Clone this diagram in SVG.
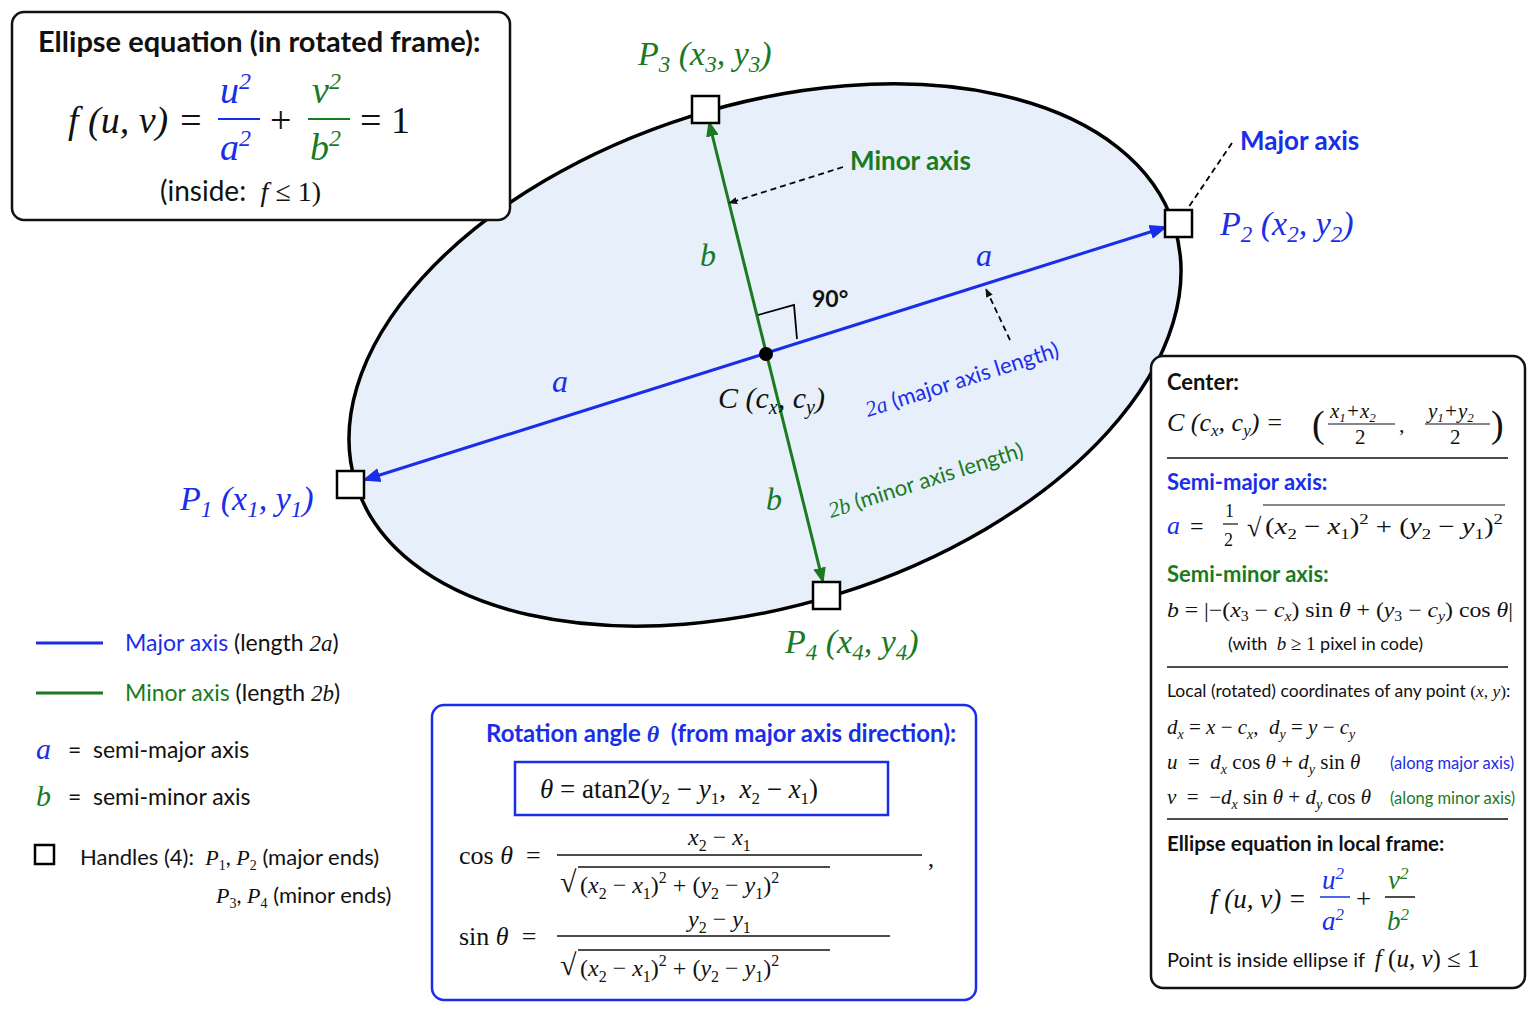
<svg xmlns="http://www.w3.org/2000/svg" width="1537" height="1023" viewBox="0 0 1537 1023">
<defs>
<style>
.s{font-family:Lato,"Liberation Sans",sans-serif}
.m{font-family:"Liberation Serif","DejaVu Serif",serif;font-style:italic}
.r{font-family:"Liberation Serif","DejaVu Serif",serif}
.b{fill:#1a2ee8}.g{fill:#1b7a1f}.k{fill:#111}
.box{fill:#fff;stroke:#111;stroke-width:2.5}
.h{fill:#fff;stroke:#000;stroke-width:2.5}
</style>
<marker id="ag" viewBox="0 0 10 10" refX="9" refY="5" markerWidth="16" markerHeight="16" orient="auto-start-reverse" markerUnits="userSpaceOnUse"><path d="M0,1 L10,5 L0,9 z" fill="#1b7a1f"/></marker>
<marker id="ab2" viewBox="0 0 10 10" refX="9" refY="5" markerWidth="18" markerHeight="18" orient="auto-start-reverse" markerUnits="userSpaceOnUse"><path d="M0,1 L10,5 L0,9 z" fill="#1a2ee8"/></marker>
<marker id="ak" viewBox="0 0 10 10" refX="9" refY="5" markerWidth="9" markerHeight="9" orient="auto" markerUnits="userSpaceOnUse"><path d="M0,1 L10,5 L0,9 z" fill="#111"/></marker>
</defs>
<rect width="1537" height="1023" fill="#fff"/>

<g id="ellipse">
<ellipse cx="765" cy="355" rx="429" ry="250" transform="rotate(-17.5 765 355)" fill="#e6effa" stroke="#000" stroke-width="3.5"/>
</g>

<g id="connectors">
<line x1="364" y1="480" x2="1166" y2="227" stroke="#1a2ee8" stroke-width="3" marker-start="url(#ab2)" marker-end="url(#ab2)"/>
<line x1="709" y1="122" x2="823" y2="582" stroke="#1b7a1f" stroke-width="3" marker-start="url(#ag)" marker-end="url(#ag)"/>
<path d="M758,315 L794,305 L797,339" fill="none" stroke="#000" stroke-width="1.8"/>
<line x1="843" y1="167" x2="729" y2="203" stroke="#000" stroke-width="1.8" stroke-dasharray="6,4" marker-end="url(#ak)"/>
<line x1="1232" y1="143" x2="1188" y2="208" stroke="#000" stroke-width="1.8" stroke-dasharray="6,4"/>
<line x1="1010" y1="340" x2="986" y2="289" stroke="#000" stroke-width="1.8" stroke-dasharray="6,4" marker-end="url(#ak)"/>
</g>

<g id="center"><circle cx="766" cy="354" r="7" fill="#000"/>
<text x="718" y="408" class="m k" font-size="30">C <tspan class="r">(</tspan>c<tspan font-size="20" dy="6">x</tspan><tspan dy="-6" class="r">, </tspan>c<tspan font-size="20" dy="6">y</tspan><tspan dy="-6" class="r">)</tspan></text>
<text x="812" y="307" class="s k" font-size="23" font-weight="bold">90°</text>
</g>

<g id="handles">
<rect x="337" y="471" width="27" height="27" class="h"/>
<rect x="1165" y="210" width="27" height="27" class="h"/>
<rect x="692" y="96" width="27" height="27" class="h"/>
<rect x="813" y="582" width="27" height="27" class="h"/>
</g>

<g id="labels">
<text x="180" y="510" class="m b" font-size="34">P<tspan font-size="23" dy="7">1</tspan><tspan dy="-7" class="r"> (</tspan>x<tspan font-size="23" dy="7">1</tspan><tspan dy="-7" class="r">, </tspan>y<tspan font-size="23" dy="7">1</tspan><tspan dy="-7" class="r">)</tspan></text>
<text x="1220" y="235" class="m b" font-size="34">P<tspan font-size="23" dy="7">2</tspan><tspan dy="-7" class="r"> (</tspan>x<tspan font-size="23" dy="7">2</tspan><tspan dy="-7" class="r">, </tspan>y<tspan font-size="23" dy="7">2</tspan><tspan dy="-7" class="r">)</tspan></text>
<text x="638" y="65" class="m g" font-size="34">P<tspan font-size="23" dy="7">3</tspan><tspan dy="-7" class="r"> (</tspan>x<tspan font-size="23" dy="7">3</tspan><tspan dy="-7" class="r">, </tspan>y<tspan font-size="23" dy="7">3</tspan><tspan dy="-7" class="r">)</tspan></text>
<text x="785" y="653" class="m g" font-size="34">P<tspan font-size="23" dy="7">4</tspan><tspan dy="-7" class="r"> (</tspan>x<tspan font-size="23" dy="7">4</tspan><tspan dy="-7" class="r">, </tspan>y<tspan font-size="23" dy="7">4</tspan><tspan dy="-7" class="r">)</tspan></text>
<text x="850" y="170" class="s g" font-size="26" font-weight="bold">Minor axis</text>
<text x="1240" y="150" class="s b" font-size="26" font-weight="bold">Major axis</text>
<text x="976" y="266" class="m b" font-size="32">a</text>
<text x="552" y="392" class="m b" font-size="32">a</text>
<text x="700" y="266" class="m g" font-size="32">b</text>
<text x="766" y="510" class="m g" font-size="32">b</text>
<text transform="translate(868,417) rotate(-17.5)" class="s b" font-size="22"><tspan class="m">2a</tspan> (major axis length)</text>
<text transform="translate(831,518) rotate(-17.5)" class="s g" font-size="22"><tspan class="m">2b</tspan> (minor axis length)</text>
</g>

<g id="eqbox">
<rect x="12" y="12" width="498" height="208" rx="12" class="box"/>
<text x="38" y="52" class="s k" font-size="29" font-weight="bold">Ellipse equation (in rotated frame):</text>
<text x="68" y="133" class="m k" font-size="38">f <tspan class="r">(</tspan>u<tspan class="r">, </tspan>v<tspan class="r">) =</tspan></text>
<text x="220" y="103" class="m b" font-size="38">u<tspan font-size="24" dy="-14" class="r">2</tspan></text>
<line x1="218" y1="119" x2="260" y2="119" stroke="#1a2ee8" stroke-width="2"/>
<text x="220" y="160" class="m b" font-size="38">a<tspan font-size="24" dy="-14" class="r">2</tspan></text>
<text x="270" y="133" class="r k" font-size="38">+</text>
<text x="312" y="103" class="m g" font-size="38">v<tspan font-size="24" dy="-14" class="r">2</tspan></text>
<line x1="308" y1="119" x2="350" y2="119" stroke="#1b7a1f" stroke-width="2"/>
<text x="310" y="160" class="m g" font-size="38">b<tspan font-size="24" dy="-14" class="r">2</tspan></text>
<text x="360" y="133" class="r k" font-size="38">= 1</text>
<text x="160" y="201" class="s k" font-size="28" xml:space="preserve">(inside:  <tspan class="m">f</tspan> <tspan class="r">≤ 1)</tspan></text>
</g>

<g id="legend">
<line x1="36" y1="643" x2="103" y2="643" stroke="#1a2ee8" stroke-width="3"/>
<text x="125" y="651" class="s k" font-size="23"><tspan class="b">Major axis</tspan> (length <tspan class="m">2a</tspan>)</text>
<line x1="36" y1="693" x2="103" y2="693" stroke="#1b7a1f" stroke-width="3"/>
<text x="125" y="701" class="s k" font-size="23"><tspan class="g">Minor axis</tspan> (length <tspan class="m">2b</tspan>)</text>
<text x="36" y="759" class="m b" font-size="30">a</text>
<text x="62" y="758" class="s k" font-size="23" xml:space="preserve"> =  semi-major axis</text>
<text x="36" y="806" class="m g" font-size="30">b</text>
<text x="62" y="805" class="s k" font-size="23" xml:space="preserve"> =  semi-minor axis</text>
<rect x="35" y="845" width="19" height="19" fill="#fff" stroke="#000" stroke-width="2.5"/>
<text x="80" y="865" class="s k" font-size="22" xml:space="preserve">Handles (4):  <tspan class="m">P</tspan><tspan class="r" font-size="14" dy="5">1</tspan><tspan dy="-5">, </tspan><tspan class="m">P</tspan><tspan class="r" font-size="14" dy="5">2</tspan><tspan dy="-5"> (major ends)</tspan></text>
<text x="216" y="903" class="s k" font-size="22"><tspan class="m">P</tspan><tspan class="r" font-size="14" dy="5">3</tspan><tspan dy="-5">, </tspan><tspan class="m">P</tspan><tspan class="r" font-size="14" dy="5">4</tspan><tspan dy="-5"> (minor ends)</tspan></text>
</g>

<g id="rotbox">
<rect x="432" y="705" width="544" height="295" rx="12" fill="#fff" stroke="#1a2ee8" stroke-width="2.5"/>
<text x="486" y="742" class="s b" font-size="24" font-weight="bold" xml:space="preserve">Rotation angle <tspan class="m">θ</tspan>  (from major axis direction):</text>
<rect x="515" y="762" width="373" height="53" fill="#fff" stroke="#1a2ee8" stroke-width="2.5"/>
<text x="540" y="798" class="r k" font-size="27" xml:space="preserve"><tspan class="m">θ</tspan> = atan2(<tspan class="m">y</tspan><tspan font-size="17" dy="6">2</tspan><tspan dy="-6"> − </tspan><tspan class="m">y</tspan><tspan font-size="17" dy="6">1</tspan><tspan dy="-6">,  </tspan><tspan class="m">x</tspan><tspan font-size="17" dy="6">2</tspan><tspan dy="-6"> − </tspan><tspan class="m">x</tspan><tspan font-size="17" dy="6">1</tspan><tspan dy="-6">)</tspan></text>
<text x="459" y="864" class="r k" font-size="26" xml:space="preserve">cos <tspan class="m">θ</tspan>  =</text>
<text x="688" y="845" class="r k" font-size="24"><tspan class="m">x</tspan><tspan font-size="16" dy="6">2</tspan><tspan dy="-6"> − </tspan><tspan class="m">x</tspan><tspan font-size="16" dy="6">1</tspan></text>
<line x1="557" y1="855" x2="922" y2="855" stroke="#111" stroke-width="1.5"/>
<text x="928" y="866" class="r k" font-size="24">,</text>
<text x="560" y="892" class="r k" font-size="30">√</text>
<line x1="578" y1="867" x2="830" y2="867" stroke="#111" stroke-width="1.5"/>
<text x="580" y="893" class="r k" font-size="24">(<tspan class="m">x</tspan><tspan font-size="16" dy="6">2</tspan><tspan dy="-6"> − </tspan><tspan class="m">x</tspan><tspan font-size="16" dy="6">1</tspan><tspan dy="-6">)</tspan><tspan font-size="16" dy="-10">2</tspan><tspan dy="10"> + (</tspan><tspan class="m">y</tspan><tspan font-size="16" dy="6">2</tspan><tspan dy="-6"> − </tspan><tspan class="m">y</tspan><tspan font-size="16" dy="6">1</tspan><tspan dy="-6">)</tspan><tspan font-size="16" dy="-10">2</tspan></text>
<text x="459" y="945" class="r k" font-size="26" xml:space="preserve">sin <tspan class="m">θ</tspan>  =</text>
<text x="688" y="927" class="r k" font-size="24"><tspan class="m">y</tspan><tspan font-size="16" dy="6">2</tspan><tspan dy="-6"> − </tspan><tspan class="m">y</tspan><tspan font-size="16" dy="6">1</tspan></text>
<line x1="557" y1="936" x2="890" y2="936" stroke="#111" stroke-width="1.5"/>
<text x="560" y="975" class="r k" font-size="30">√</text>
<line x1="578" y1="950" x2="830" y2="950" stroke="#111" stroke-width="1.5"/>
<text x="580" y="976" class="r k" font-size="24">(<tspan class="m">x</tspan><tspan font-size="16" dy="6">2</tspan><tspan dy="-6"> − </tspan><tspan class="m">x</tspan><tspan font-size="16" dy="6">1</tspan><tspan dy="-6">)</tspan><tspan font-size="16" dy="-10">2</tspan><tspan dy="10"> + (</tspan><tspan class="m">y</tspan><tspan font-size="16" dy="6">2</tspan><tspan dy="-6"> − </tspan><tspan class="m">y</tspan><tspan font-size="16" dy="6">1</tspan><tspan dy="-6">)</tspan><tspan font-size="16" dy="-10">2</tspan></text>
</g>

<g id="infobox">
<rect x="1151" y="356" width="374" height="632" rx="12" class="box"/>
<text x="1167" y="390" class="s k" font-size="22" font-weight="bold">Center:</text>
<text x="1167" y="431" class="m k" font-size="26">C <tspan class="r">(</tspan>c<tspan font-size="17" dy="5">x</tspan><tspan dy="-5" class="r">, </tspan>c<tspan font-size="17" dy="5">y</tspan><tspan dy="-5" class="r">) = </tspan></text>
<text x="1312" y="437" class="r k" font-size="38">(</text>
<text x="1330" y="418" class="m k" font-size="21">x<tspan font-size="13" dy="4" class="r">1</tspan><tspan dy="-4" class="r">+</tspan>x<tspan font-size="13" dy="4" class="r">2</tspan></text>
<line x1="1328" y1="424" x2="1395" y2="424" stroke="#111" stroke-width="1.2"/>
<text x="1355" y="444" class="r k" font-size="21">2</text>
<text x="1399" y="432" class="r k" font-size="22">,</text>
<text x="1428" y="418" class="m k" font-size="21">y<tspan font-size="13" dy="4" class="r">1</tspan><tspan dy="-4" class="r">+</tspan>y<tspan font-size="13" dy="4" class="r">2</tspan></text>
<line x1="1425" y1="424" x2="1490" y2="424" stroke="#111" stroke-width="1.2"/>
<text x="1450" y="444" class="r k" font-size="21">2</text>
<text x="1491" y="437" class="r k" font-size="38">)</text>
<line x1="1167" y1="458" x2="1508" y2="458" stroke="#111" stroke-width="1.5"/>
<text x="1167" y="490" class="s b" font-size="22" font-weight="bold">Semi-major axis:</text>
<text x="1167" y="534" class="m b" font-size="26">a</text>
<text x="1190" y="534" class="r k" font-size="24">=</text>
<text x="1225" y="517" class="r k" font-size="18">1</text>
<line x1="1223" y1="524" x2="1238" y2="524" stroke="#111" stroke-width="1.2"/>
<text x="1224" y="546" class="r k" font-size="18">2</text>
<text x="1247" y="536" class="r k" font-size="26">√</text>
<line x1="1263" y1="505" x2="1505" y2="505" stroke="#111" stroke-width="1.2"/>
<text x="1265" y="534" class="r k" font-size="23" textLength="238" lengthAdjust="spacingAndGlyphs">(<tspan class="m">x</tspan><tspan font-size="15" dy="5">2</tspan><tspan dy="-5"> − </tspan><tspan class="m">x</tspan><tspan font-size="15" dy="5">1</tspan><tspan dy="-5">)</tspan><tspan font-size="15" dy="-10">2</tspan><tspan dy="10"> + (</tspan><tspan class="m">y</tspan><tspan font-size="15" dy="5">2</tspan><tspan dy="-5"> − </tspan><tspan class="m">y</tspan><tspan font-size="15" dy="5">1</tspan><tspan dy="-5">)</tspan><tspan font-size="15" dy="-10">2</tspan></text>
<text x="1167" y="582" class="s g" font-size="22" font-weight="bold">Semi-minor axis:</text>
<text x="1167" y="617" class="r k" font-size="21" textLength="346" lengthAdjust="spacingAndGlyphs"><tspan class="m">b</tspan> = |−(<tspan class="m">x</tspan><tspan font-size="14" dy="4">3</tspan><tspan dy="-4"> − </tspan><tspan class="m">c</tspan><tspan class="m" font-size="14" dy="4">x</tspan><tspan dy="-4">) sin </tspan><tspan class="m">θ</tspan> + (<tspan class="m">y</tspan><tspan font-size="14" dy="4">3</tspan><tspan dy="-4"> − </tspan><tspan class="m">c</tspan><tspan class="m" font-size="14" dy="4">y</tspan><tspan dy="-4">) cos </tspan><tspan class="m">θ</tspan>|</text>
<text x="1228" y="650" class="s k" font-size="18" xml:space="preserve">(with  <tspan class="m" font-size="19">b</tspan> <tspan class="r" font-size="19">≥ 1</tspan> pixel in code)</text>
<line x1="1167" y1="667" x2="1508" y2="667" stroke="#111" stroke-width="1.5"/>
<text x="1167" y="697" class="s k" font-size="17.5">Local (rotated) coordinates of any point <tspan class="r">(</tspan><tspan class="m">x</tspan><tspan class="r">, </tspan><tspan class="m">y</tspan><tspan class="r">)</tspan>:</text>
<text x="1167" y="734" class="r k" font-size="21" xml:space="preserve"><tspan class="m">d</tspan><tspan class="m" font-size="14" dy="5">x</tspan><tspan dy="-5"> = </tspan><tspan class="m">x</tspan> − <tspan class="m">c</tspan><tspan class="m" font-size="14" dy="5">x</tspan><tspan dy="-5">,  </tspan><tspan class="m">d</tspan><tspan class="m" font-size="14" dy="5">y</tspan><tspan dy="-5"> = </tspan><tspan class="m">y</tspan> − <tspan class="m">c</tspan><tspan class="m" font-size="14" dy="5">y</tspan></text>
<text x="1167" y="769" class="r k" font-size="21" xml:space="preserve"><tspan class="m">u</tspan>  =  <tspan class="m">d</tspan><tspan class="m" font-size="14" dy="5">x</tspan><tspan dy="-5"> cos </tspan><tspan class="m">θ</tspan> + <tspan class="m">d</tspan><tspan class="m" font-size="14" dy="5">y</tspan><tspan dy="-5"> sin </tspan><tspan class="m">θ</tspan></text>
<text x="1390" y="769" class="s b" font-size="16.5">(along major axis)</text>
<text x="1167" y="804" class="r k" font-size="21" xml:space="preserve"><tspan class="m">v</tspan>  =  −<tspan class="m">d</tspan><tspan class="m" font-size="14" dy="5">x</tspan><tspan dy="-5"> sin </tspan><tspan class="m">θ</tspan> + <tspan class="m">d</tspan><tspan class="m" font-size="14" dy="5">y</tspan><tspan dy="-5"> cos </tspan><tspan class="m">θ</tspan></text>
<text x="1390" y="804" class="s g" font-size="16.5">(along minor axis)</text>
<line x1="1167" y1="819" x2="1508" y2="819" stroke="#111" stroke-width="1.5"/>
<text x="1167" y="851" class="s k" font-size="20.5" font-weight="bold">Ellipse equation in local frame:</text>
<text x="1210" y="908" class="m k" font-size="27">f <tspan class="r">(</tspan>u<tspan class="r">, </tspan>v<tspan class="r">) =</tspan></text>
<text x="1322" y="889" class="m b" font-size="27">u<tspan class="r" font-size="17" dy="-10">2</tspan></text>
<line x1="1320" y1="897" x2="1350" y2="897" stroke="#1a2ee8" stroke-width="1.5"/>
<text x="1322" y="930" class="m b" font-size="27">a<tspan class="r" font-size="17" dy="-10">2</tspan></text>
<text x="1356" y="908" class="r k" font-size="27">+</text>
<text x="1388" y="889" class="m g" font-size="27">v<tspan class="r" font-size="17" dy="-10">2</tspan></text>
<line x1="1385" y1="897" x2="1415" y2="897" stroke="#111" stroke-width="1.5"/>
<text x="1387" y="930" class="m g" font-size="27">b<tspan class="r" font-size="17" dy="-10">2</tspan></text>
<text x="1167" y="967" class="s k" font-size="20" xml:space="preserve">Point is inside ellipse if  <tspan class="m" font-size="25">f</tspan><tspan class="r" font-size="25"> (</tspan><tspan class="m" font-size="25">u</tspan><tspan class="r" font-size="25">, </tspan><tspan class="m" font-size="25">v</tspan><tspan class="r" font-size="25">) ≤ 1</tspan></text>
</g>
</svg>
